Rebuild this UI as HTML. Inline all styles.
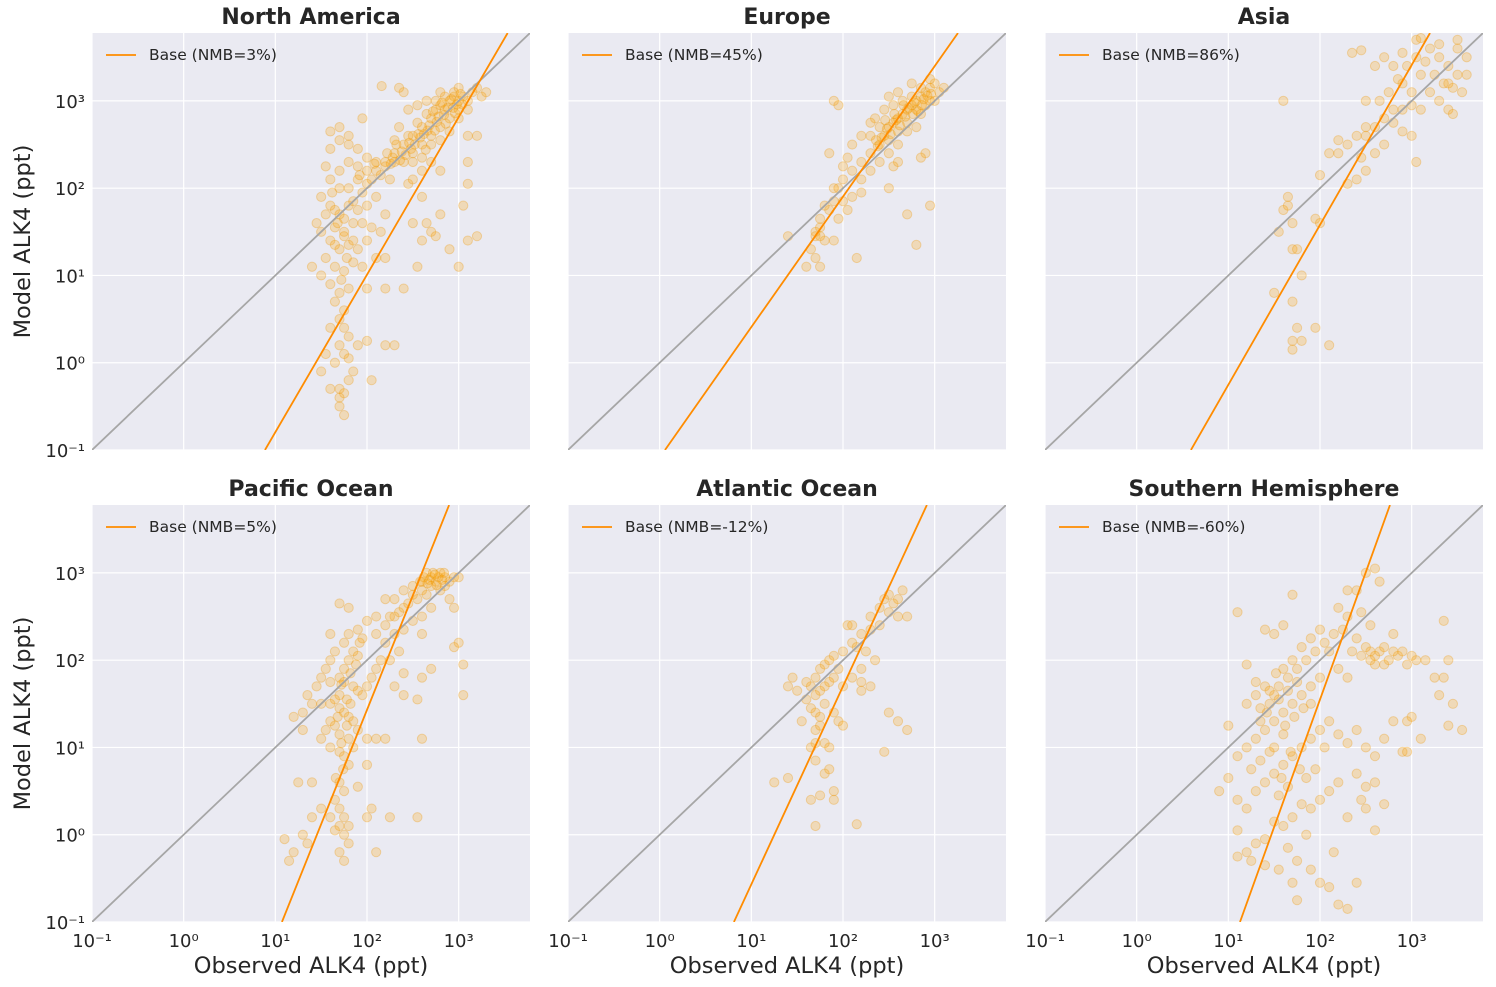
<!DOCTYPE html>
<html><head><meta charset="utf-8"><style>
body{margin:0;background:#fff;}
svg{display:block;font-family:"DejaVu Sans","Liberation Sans",sans-serif;}
</style></head><body>
<svg id="fig" width="1496" height="987" viewBox="0 0 1496 987"></svg>
<script>
const panelTitles=["North America","Europe","Asia","Pacific Ocean","Atlantic Ocean","Southern Hemisphere"];
const nmbLabels=["Base (NMB=3%)","Base (NMB=45%)","Base (NMB=86%)","Base (NMB=5%)","Base (NMB=-12%)","Base (NMB=-60%)"];
// regression lines: [log10 slope, log10 x where model = 0.1]
const fitSlopes=[1.805,1.495,1.832,2.62,2.27,2.92];
const fitXAtMin=[0.887,0.058,0.592,1.072,0.81,1.127];
const tickExps=[-1,0,1,2,3];
const axisMin=0.1, axisMax=6000;
// scatter points in log10 units: [obs, model]
const ptsNA=[[2.5,2.6],[2.6,2.7],[2.7,2.8],[2.75,2.9],[2.8,2.95],[2.85,2.9],[2.9,3.0],[2.95,3.05],[3.0,3.0],[3.0,2.9],[2.9,2.8],[2.8,2.7],[2.7,2.6],[2.6,2.5],[2.5,2.4],[2.4,2.5],[2.45,2.6],[2.55,2.75],[2.65,2.85],[2.75,3.0],[2.85,3.05],[2.95,3.1],[3.05,3.05],[3.1,3.0],[3.1,2.9],[3.0,2.8],[2.9,2.65],[2.8,2.55],[2.7,2.5],[2.6,2.35],[2.5,2.3],[2.4,2.3],[2.3,2.4],[2.35,2.7],[2.45,2.9],[2.55,2.95],[2.65,3.0],[3.15,3.1],[3.2,3.15],[3.25,3.05],[3.3,3.1],[3.2,2.6],[3.1,2.6],[2.6,2.2],[2.7,2.3],[2.4,3.1],[2.35,3.15],[2.16,3.17],[2.8,3.1],[3.0,3.15],
[2.72,2.88],[2.78,2.82],[2.82,2.98],[2.88,2.92],[2.92,3.02],[2.98,2.96],[2.68,2.72],[2.62,2.62],[2.58,2.58],[2.52,2.5],[2.48,2.45],[2.42,2.38],[2.38,2.42],[2.32,2.5],[2.28,2.35],[2.76,2.76],[2.84,2.84],[2.94,2.92],[3.02,3.08],[2.66,2.66],[2.56,2.62],[2.46,2.52],[2.36,2.32],[2.26,2.28],[2.22,2.4],[2.3,2.55],[2.86,2.74],[2.96,2.86],[3.04,2.96],[2.74,2.66],[2.64,2.44],
[1.6,2.65],[1.7,2.55],[1.8,2.5],[1.9,2.45],[2.0,2.35],[2.1,2.3],[2.2,2.3],[2.0,2.2],[1.9,2.25],[1.8,2.3],[1.7,2.2],[1.6,2.1],[1.7,2.0],[1.8,2.0],[1.9,2.1],[2.0,2.05],[2.1,2.2],[2.2,2.25],[2.3,2.3],[1.5,1.9],[1.55,1.7],[1.6,1.8],[1.7,1.7],[1.8,1.8],[1.9,1.75],[2.0,1.8],[2.1,1.9],[2.2,1.7],[1.65,1.55],[1.75,1.5],[1.85,1.6],[1.95,1.6],[2.05,1.55],[2.15,1.5],[1.6,1.4],[1.7,1.3],[1.8,1.35],[1.9,1.3],[2.0,1.4],[2.1,1.2],[1.5,1.5],[1.45,1.6],[1.55,1.2],[1.65,1.1],[1.75,1.05],[1.85,1.15],[2.2,1.2],[1.4,1.1],[1.5,1.0],[1.6,0.9],[1.7,0.8],[1.75,0.6],[1.8,0.85],[1.95,1.1],[2.0,0.85],[2.2,0.85],[2.4,0.85],[2.55,1.1],[1.55,2.25],[1.6,2.45],[1.7,2.7],[1.95,2.8],[1.8,2.6],
[1.75,1.65],[1.85,1.85],[1.95,1.95],[2.05,2.1],[2.15,2.15],[1.65,1.75],[1.75,1.45],[1.85,1.4],[1.65,1.35],[1.78,1.2],[1.72,0.95],[1.68,1.6],[1.62,1.95],[1.92,2.15],[2.08,2.28],[2.25,2.1],
[1.65,0.7],[1.7,0.5],[1.75,0.4],[1.8,0.3],[1.7,0.2],[1.75,0.1],[1.65,0.0],[1.8,0.05],[1.85,-0.1],[1.7,-0.3],[1.75,-0.35],[1.8,-0.2],[1.6,0.4],[1.55,0.1],[1.5,-0.1],[1.6,-0.3],[1.75,-0.6],[1.7,-0.4],[1.7,-0.5],[2.0,0.25],[2.05,-0.2],[2.2,0.2],[2.3,0.2],[1.9,0.2],
[2.5,1.6],[2.6,1.4],[2.7,1.5],[2.8,1.7],[2.9,1.3],[3.0,1.1],[3.1,1.4],[3.05,1.8],[3.1,2.05],[3.2,1.45],[2.75,1.45],[2.65,1.6],[2.6,1.9],[2.45,2.05],[2.5,2.1],[2.8,2.2],[3.1,2.3]];
const ptsEU=[[2.2,2.3],[2.3,2.4],[2.4,2.5],[2.45,2.6],[2.5,2.7],[2.55,2.75],[2.6,2.8],[2.65,2.85],[2.7,2.9],[2.75,2.95],[2.8,3.0],[2.85,3.05],[2.9,3.1],[2.95,3.15],[3.0,3.2],[2.8,2.9],[2.7,2.75],[2.6,2.65],[2.5,2.55],[2.4,2.7],[2.3,2.6],[2.35,2.8],[2.45,2.9],[2.55,2.95],[2.65,3.0],[2.75,3.05],[2.85,2.85],[2.9,2.95],[2.95,3.0],[2.8,2.7],[2.7,2.65],[2.6,2.5],[2.5,2.4],[2.4,2.3],[2.3,2.2],[2.2,2.1],[2.1,2.2],[2.0,2.1],[2.1,2.5],[2.2,2.6],[2.3,2.75],[2.5,3.05],[2.6,3.1],[2.75,3.2],[2.85,3.15],[3.0,3.0],[3.05,3.1],[2.9,2.4],[2.85,2.35],[2.6,2.3],[2.95,1.8],[2.7,1.7],[2.55,2.25],[2.5,2.0],[2.2,1.95],[2.1,1.9],[2.0,1.85],[1.95,2.0],[1.9,1.85],[1.85,1.75],[1.8,1.8],[1.75,1.65],[1.7,1.5],[1.75,1.55],[1.8,1.4],[1.7,1.45],[1.65,1.3],[1.7,1.2],[1.75,1.1],[1.6,1.1],[1.75,1.45],[2.05,1.75],[1.9,1.4],[2.15,1.2],[1.4,1.45],[1.85,2.4],[2.0,2.25],[2.05,2.35],[1.9,2.0],[1.95,1.65],[2.8,1.35],[1.95,2.95],[1.9,3.0],[3.1,3.15],[2.95,3.25],
[2.72,2.92],[2.78,2.98],[2.82,2.88],[2.88,3.02],[2.92,3.06],[2.68,2.82],[2.62,2.72],[2.58,2.78],[2.52,2.62],[2.48,2.68],[2.42,2.58],[2.38,2.48],[2.66,2.95],[2.76,2.85],[2.86,2.95],[2.96,3.08],[2.56,2.85],[2.46,2.78],[2.36,2.55]];
const ptsAS=[[2.2,2.4],[2.3,2.5],[2.4,2.6],[2.5,2.7],[2.45,2.35],[2.5,3.0],[2.6,3.4],[2.7,3.5],[2.8,3.4],[2.9,3.2],[3.0,3.1],[3.1,3.3],[3.2,3.6],[3.3,3.5],[3.4,3.4],[3.5,3.3],[3.5,3.6],[3.6,3.5],[3.6,3.3],[3.4,3.2],[3.3,3.0],[3.2,3.1],[3.1,2.9],[3.0,2.95],[2.9,2.9],[2.8,2.9],[2.7,2.8],[2.6,2.7],[2.65,3.0],[2.75,3.1],[2.85,3.25],[2.95,3.4],[3.05,3.5],[3.15,3.45],[3.25,3.3],[3.35,3.2],[3.45,3.15],[3.55,3.1],[3.4,2.9],[3.45,2.85],[3.0,2.6],[2.9,2.65],[2.35,3.55],[2.45,3.58],[2.2,2.55],[2.1,2.4],[2.3,2.05],[2.4,2.1],[2.5,2.2],[2.6,2.4],[2.7,2.5],[2.5,2.6],[3.05,2.3],[3.05,3.7],[3.1,3.72],[3.3,3.65],[3.5,3.7],[2.9,3.55],[2.8,2.75],
[1.6,3.0],[1.55,1.5],[1.6,1.75],[1.65,1.8],[1.7,1.6],[1.65,1.9],[1.7,1.3],[1.75,1.3],[1.8,1.0],[1.7,0.7],[1.75,0.4],[1.8,0.25],[1.7,0.15],[1.7,0.25],[1.95,0.4],[1.95,1.65],[2.0,1.6],[2.1,0.2],[2.0,2.15],[1.5,0.8]];
const ptsPA=[[2.6,2.9],[2.65,3.0],[2.7,2.95],[2.75,2.9],[2.8,3.0],[2.85,2.95],[2.9,2.9],[2.95,2.95],[2.7,2.85],[2.6,2.8],[2.55,2.7],[2.5,2.75],[2.45,2.65],[2.4,2.6],[2.35,2.55],[2.3,2.5],[2.25,2.5],[2.2,2.4],[2.3,2.7],[2.4,2.8],[2.5,2.85],[2.85,2.85],[3.0,2.95],[2.9,2.7],[2.8,2.8],[2.65,2.75],[2.7,2.6],[2.6,2.5],[2.5,2.45],[2.4,2.35],[2.3,2.3],[2.2,2.7],[2.1,2.5],[2.0,2.45],[1.9,2.35],[1.95,2.25],[2.1,2.3],[2.2,2.2],[2.25,2.0],[2.35,2.1],[2.4,1.85],[2.3,1.7],[2.4,1.6],[2.6,2.3],[2.6,1.8],[2.55,1.55],[2.6,1.1],[2.7,1.9],[2.95,2.6],[3.0,2.2],[3.05,1.95],[3.05,1.6],[2.95,2.15],
[2.62,2.95],[2.68,2.92],[2.72,3.0],[2.78,2.95],[2.82,2.92],[2.74,2.98],[2.66,2.88],[2.58,2.9],[2.76,2.86],[2.84,3.0],
[1.8,2.6],[1.8,2.3],[1.85,2.1],[1.9,2.05],[1.8,2.0],[1.75,1.9],[1.7,1.8],[1.75,1.75],[1.85,1.7],[1.9,1.65],[1.95,1.6],[2.0,1.7],[2.05,1.8],[2.1,1.9],[2.15,2.0],[1.7,1.6],[1.65,1.55],[1.6,1.5],[1.7,1.45],[1.75,1.4],[1.8,1.35],[1.85,1.3],[1.9,1.2],[2.0,1.1],[2.1,1.1],[2.2,1.1],[1.8,1.1],[1.7,1.15],[1.65,1.25],[1.6,1.3],[1.55,1.2],[1.5,1.1],[1.6,1.0],[1.7,0.95],[1.75,0.9],[1.8,0.8],[1.7,0.6],[1.75,0.5],[1.65,0.4],[1.7,0.3],[1.75,0.2],[1.7,0.1],[1.65,0.05],[1.8,0.1],[1.75,0.0],[1.7,-0.2],[1.75,-0.3],[1.8,-0.1],[1.6,0.2],[1.5,0.3],[1.4,0.2],[1.3,0.0],[1.35,-0.1],[1.2,-0.2],[1.1,-0.05],[1.15,-0.3],[1.25,0.6],[1.4,0.6],[1.3,1.2],[1.4,1.5],[1.5,1.5],[1.45,1.7],[1.5,1.8],[1.35,1.6],[1.3,1.4],[1.2,1.35],[1.6,1.75],[1.55,1.9],[1.6,2.0],[1.65,2.1],[1.6,2.3],[1.75,2.2],[1.7,2.65],[2.0,0.2],[2.05,0.3],[2.25,0.2],[2.1,-0.2],[2.55,0.2],[2.0,0.8],[1.85,1.0],[1.9,0.55],
[1.72,1.72],[1.78,1.55],[1.82,1.85],[1.68,1.35],[1.72,1.05],[1.78,1.25],[1.82,1.5],[1.88,1.95],[1.92,2.2],[1.74,0.75],[1.66,0.65]];
const ptsAT=[[2.3,2.5],[2.4,2.6],[2.45,2.7],[2.5,2.75],[2.6,2.7],[2.65,2.8],[2.55,2.65],[2.5,2.55],[2.4,2.4],[2.3,2.35],[2.2,2.3],[2.1,2.2],[2.0,2.1],[2.15,2.15],[2.25,2.1],[2.35,2.0],[2.2,1.9],[2.1,1.8],[2.0,1.7],[1.95,1.9],[1.9,1.8],[1.85,1.75],[1.8,1.7],[1.75,1.65],[1.7,1.6],[1.65,1.7],[1.6,1.75],[1.7,1.8],[1.75,1.9],[1.8,1.95],[1.85,2.0],[1.6,1.55],[1.65,1.45],[1.7,1.4],[1.75,1.35],[1.8,1.5],[1.9,1.4],[1.95,1.3],[2.0,1.25],[2.05,2.4],[1.5,1.65],[1.45,1.8],[1.4,1.7],[1.55,1.3],[1.7,1.2],[1.75,1.25],[1.8,1.05],[1.85,1.0],[1.7,1.05],[1.65,1.0],[1.7,0.85],[1.8,0.7],[1.85,0.75],[1.9,0.5],[1.75,0.45],[1.65,0.4],[1.7,0.1],[1.9,0.4],[2.15,0.12],[1.4,0.65],[1.25,0.6],[2.6,1.3],[2.7,1.2],[2.45,0.95],[2.5,1.4],[2.2,1.65],[2.3,1.7],[1.9,2.05],[2.1,2.4],[2.6,2.5],[2.7,2.5],[2.2,1.75]];
const ptsSH=[[1.2,1.5],[1.3,1.6],[1.4,1.7],[1.5,1.6],[1.35,1.45],[1.45,1.5],[1.55,1.7],[1.65,1.8],[1.75,1.9],[1.85,2.0],[1.95,2.1],[2.05,2.2],[2.15,2.3],[2.25,2.35],[2.35,2.1],[2.45,2.05],[2.55,2.0],[2.65,2.1],[2.75,2.0],[2.85,2.05],[2.95,1.95],[3.05,2.0],[3.15,2.0],[2.6,1.95],[2.7,2.15],[2.8,2.1],[2.5,2.15],[2.4,2.25],[2.3,2.5],[2.2,2.6],[2.4,2.8],[2.5,3.0],[2.6,3.05],[2.65,2.9],[2.55,2.4],[2.45,2.55],[2.3,2.8],[1.7,2.75],[1.6,2.4],[1.5,2.3],[1.4,2.35],[1.1,2.55],[1.2,1.95],[1.3,1.75],[1.6,1.9],[1.7,2.0],[1.8,2.15],[1.9,2.25],[2.0,2.35],[2.1,2.1],[2.2,1.9],[2.3,1.8],[2.0,1.8],[1.9,1.7],[1.8,1.6],[1.7,1.5],[1.6,1.4],[1.5,1.3],[1.4,1.2],[1.3,1.1],[1.2,1.0],[1.1,0.9],[1.0,1.25],[0.9,0.5],[1.0,0.65],[1.1,0.4],[1.2,0.3],[1.3,0.5],[1.4,0.6],[1.5,0.7],[1.6,0.8],[1.7,0.9],[1.8,1.0],[1.9,1.1],[2.0,1.2],[2.1,1.3],[2.2,1.15],[2.3,1.05],[2.4,1.2],[2.5,1.0],[2.6,0.9],[2.7,1.1],[2.8,1.3],[2.6,0.6],[2.5,0.55],[2.4,0.7],[2.2,0.6],[2.1,0.5],[2.0,0.4],[1.9,0.3],[1.8,0.35],[1.7,0.2],[1.6,0.1],[1.5,0.15],[1.4,-0.05],[1.3,-0.1],[1.2,-0.2],[1.1,-0.25],[1.1,0.05],[1.25,-0.3],[1.4,-0.35],[1.55,-0.4],[1.65,-0.15],[1.75,-0.3],[1.7,-0.55],[1.9,-0.4],[2.0,-0.55],[2.1,-0.6],[2.15,-0.2],[2.3,-0.85],[2.4,-0.55],[2.2,-0.8],[1.75,-0.75],[1.85,0.0],[2.3,0.2],[2.5,0.3],[2.6,0.05],[2.45,0.4],[2.7,0.35],[2.9,0.95],[2.95,0.95],[3.0,1.35],[3.1,1.1],[3.3,1.6],[3.35,1.8],[3.45,1.5],[3.4,2.0],[3.4,1.25],[3.55,1.2],[3.35,2.45],[2.95,1.3],[2.8,2.3],[3.25,1.8],[1.5,1.0],[1.6,1.15],[1.65,0.55],[1.55,0.45],[1.45,0.95],[1.35,0.85],[1.25,0.75],[1.95,0.75],[1.85,0.65],
[1.45,1.65],[1.55,1.55],[1.65,1.65],[1.75,1.75],[1.62,1.25],[1.72,1.35],[1.82,1.45],[1.68,0.95],[1.58,0.65],[1.78,0.75],[1.52,1.85],[1.42,1.4],[2.6,2.05],[2.7,1.95],[2.9,2.1],[3.0,2.05],[2.55,2.1],[1.9,1.5],[2.05,1.0],[1.35,1.3]];
const allPts=[ptsNA,ptsEU,ptsAS,ptsPA,ptsAT,ptsSH];

const NS="http://www.w3.org/2000/svg";
const svg=document.getElementById('fig');
function mk(tag,attrs,parent){const e=document.createElementNS(NS,tag);for(const k in attrs)e.setAttribute(k,attrs[k]);(parent||svg).appendChild(e);return e;}
const colX=[92,568,1045], rowY=[33,505], W=438, H=417;
const lmin=Math.log10(axisMin), lmax=Math.log10(axisMax);
const sup={"-":"\u207B","0":"\u2070","1":"\u00B9","2":"\u00B2","3":"\u00B3"};
function supStr(n){return String(n).split('').map(c=>sup[c]).join('');}
const slugs=["north-america","europe","asia","pacific-ocean","atlantic-ocean","southern-hemisphere"];
for(let p=0;p<6;p++){
  const x0=colX[p%3], y0=rowY[Math.floor(p/3)];
  const sx=l=>x0+(l-lmin)/(lmax-lmin)*W;
  const sy=l=>y0+H-(l-lmin)/(lmax-lmin)*H;
  const g=mk('g',{});
  
  
  const bg=mk('rect',{x:x0,y:y0,width:W,height:H,fill:'#EAEAF2'},g);
  
  
  const cp=mk('clipPath',{id:'clip'+p},g);
  mk('rect',{x:x0,y:y0,width:W,height:H},cp);
  tickExps.forEach(e=>{
    const gx=mk('line',{x1:sx(e),x2:sx(e),y1:y0,y2:y0+H,stroke:'#fff','stroke-width':1.2},g);
    
    
    const gy=mk('line',{x1:x0,x2:x0+W,y1:sy(e),y2:sy(e),stroke:'#fff','stroke-width':1.2},g);
    
    
    if(p%3===0){
      const t=mk('text',{x:x0-7,y:sy(e)+7,'text-anchor':'end','font-size':18,fill:'#262626'},g);
      t.textContent='10'+supStr(e);
      
      
    }
    if(p>=3){
      const t=mk('text',{x:sx(e),y:y0+H+25,'text-anchor':'middle','font-size':18,fill:'#262626'},g);
      t.textContent='10'+supStr(e);
      
      
    }
  });
  const cg=mk('g',{'clip-path':'url(#clip'+p+')'},g);
  allPts[p].forEach(pt=>{
    const c=mk('circle',{cx:sx(pt[0]),cy:sy(pt[1]),r:4.6,fill:'rgba(255,165,0,0.24)',stroke:'rgba(235,150,0,0.3)','stroke-width':1},cg);
    
    
  });
  const d=mk('line',{x1:sx(lmin),y1:sy(lmin),x2:sx(lmax),y2:sy(lmax),stroke:'#a6a6a6','stroke-width':1.8},cg);
  
  
  const m=fitSlopes[p], xa=fitXAtMin[p];
  const xb=xa+(lmax-lmin)/m;
  const f=mk('line',{x1:sx(xa),y1:sy(lmin),x2:sx(xb),y2:sy(lmax),stroke:'#FF8C00','stroke-width':1.8},cg);
  
  
  const ttl=mk('text',{x:x0+W/2,y:y0-9,'text-anchor':'middle','font-size':22,'font-weight':'bold',fill:'#262626'},g);
  ttl.textContent=panelTitles[p];
  
  
  const lg=mk('g',{},g);
  
  
  mk('line',{x1:x0+14,x2:x0+44,y1:y0+22,y2:y0+22,stroke:'#FF8C00','stroke-width':1.8},lg);
  const lt=mk('text',{x:x0+57,y:y0+27,'font-size':15.5,fill:'#262626'},lg);
  lt.textContent=nmbLabels[p];
  if(p%3===0){
    const yl=mk('text',{x:0,y:0,transform:'translate(30,'+(y0+H/2)+') rotate(-90)','text-anchor':'middle','font-size':22.5,fill:'#262626'},g);
    yl.textContent='Model ALK4 (ppt)';
    
    
  }
  if(p>=3){
    const xl=mk('text',{x:x0+W/2,y:y0+H+51,'text-anchor':'middle','font-size':22.5,fill:'#262626'},g);
    xl.textContent='Observed ALK4 (ppt)';
    
    
  }
}
</script>
</body></html>
